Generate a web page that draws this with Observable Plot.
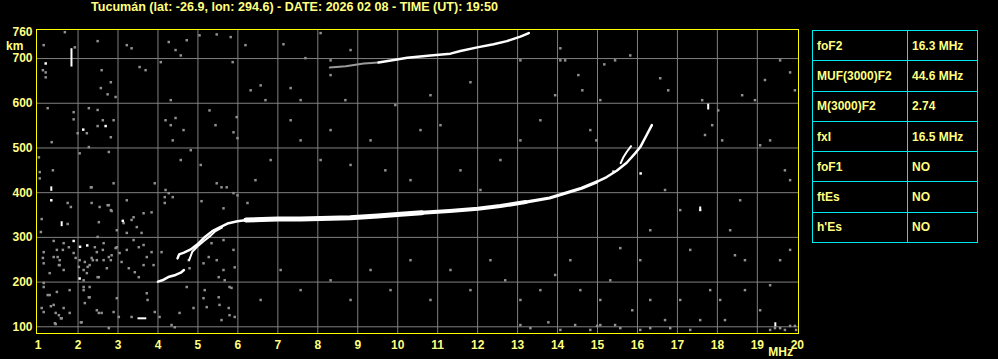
<!DOCTYPE html>
<html><head><meta charset="utf-8">
<script src="https://cdn.jsdelivr.net/npm/d3@7"></script>
<script src="https://cdn.jsdelivr.net/npm/@observablehq/plot@0.6"></script>
<style>
html,body{margin:0;padding:0;background:#000;}
#wrap{position:relative;width:998px;height:359px;overflow:hidden;background:#000;font-family:"Liberation Sans",Arial,sans-serif;}
#params{position:absolute;left:812px;top:30px;width:166px;border-collapse:collapse;table-layout:fixed;}
#params td{border:1px solid #00e8f0;color:#ffff80;font:bold 12px "Liberation Sans",Arial,sans-serif;height:30.3px;padding:0 0 0 4px;white-space:nowrap;box-sizing:border-box;}
#params td.k{width:95px;}
</style></head>
<body><div id="wrap"></div>
<script>
// ---------- data ----------
const titleText = "Tucumán (lat: -26.9, lon: 294.6) - DATE: 2026 02 08 - TIME (UT): 19:50";
const xTicks = [1,2,3,4,5,6,7,8,9,10,11,12,13,14,15,16,17,18,19,20];
const yTicks = [100,200,300,400,500,600,700,760];
const gridF = [2,3,4,5,6,7,8,9,10,11,12,13,14,15,16,17,18,19];
const gridH = [100,200,300,400,500,600,700];

const paramNames = ["foF2","MUF(3000)F2","M(3000)F2","fxI","foF1","ftEs","h'Es"];
const paramValues = ["16.3 MHz","44.6 MHz","2.74","16.5 MHz","NO","NO","NO"];

// F2 trace (MHz, km)
const f2Low = [[4.0,201],[4.11,204],[4.28,212],[4.44,216],[4.57,221],[4.65,227]];
const f2BranchA = [[4.49,253],[4.53,262],[4.65,266],[4.82,273],[4.98,284],[5.15,299],[5.36,314],[5.52,321],[5.74,331],[5.99,336],[6.32,340]];
const f2BranchB = [[4.78,249],[4.86,268],[4.98,279],[5.15,292],[5.32,304],[5.44,314],[5.6,322]];
const f2Flat = [[6.2,339],[6.6,340],[7.0,341],[7.57,341],[8.32,343],[8.81,344],[9.5,348],[10.07,352],[10.6,355]];
const f2Mid = [[10.6,355],[11.3,359],[12.0,364],[12.57,370],[13.2,379]];
const f2Rise = [[13.2,379],[13.8,388],[14.23,400],[14.6,410],[14.98,424]];
const f2Top = [[14.98,424],[15.23,435],[15.48,449],[15.73,467],[15.94,488],[16.07,502],[16.23,529],[16.36,551]];
const f2X = [[15.58,466],[15.64,478],[15.73,491],[15.84,504]];
// second-hop trace
const hop2Gray = [[8.3,680],[8.7,683],[9.15,689],[9.52,691]];
const hop2White = [[9.52,691],[9.98,698],[10.24,702],[10.82,707],[11.32,711],[11.57,717],[11.99,725],[12.4,732],[12.73,739],[13.07,749],[13.28,757]];

// isolated white echoes
const whiteBars = [
  {f:1.835,h1:681,h2:722},{f:1.33,h1:403,h2:413},{f:1.59,h1:324,h2:335},
  {f:19.45,h1:100,h2:109},{f:17.57,h1:358,h2:368},{f:17.77,h1:585,h2:598}
];
const whiteDots = [[1.33,383],[1.19,689],[1.89,292],[2.23,282],[2.04,208],[2.13,541],[2.69,549],[3.12,337],[2.05,279],[16.08,443],[15.4,447]];
const whiteHBar = [{h:119,f1:3.5,f2:3.72}];

// gray noise echoes
const noise = [
[1.67,759],[1.14,730],[1.92,725],[2.49,739],[1.12,674],[1.19,669],[1.19,658],[2.59,674],[2.82,647],[2.57,634],
[2.74,620],[2.94,614],[1.24,589],[1.89,580],[1.89,564],[1.99,533],[2.22,533],[2.27,589],[2.49,585],[2.62,562],
[2.49,549],[2.82,524],[2.89,562],[1.34,513],[2.04,488],[2.27,502],[2.77,491],[1.02,479],[1.37,450],[1.04,446],
[1.04,432],[2.32,412],[1.74,377],[1.82,368],[1.09,341],[2.52,334],[2.82,361],[2.74,372],[1.74,330],[1.07,312],
[1.39,292],[1.62,272],[1.49,256],[1.54,238],[1.12,254],[1.94,254],[2.02,234],[2.24,234],[2.37,249],[2.49,301],
[2.62,272],[2.82,249],[2.94,276],[2.14,189],[2.27,166],[2.49,211],[1.14,198],[1.24,171],[1.32,146],[1.44,131],
[1.57,119],[1.44,106],[2.07,110],[2.52,131],[2.77,97],[3.02,122],[1.14,133],
[2.34,412],[2.89,421],[3.92,421],[4.17,390],[4.37,390],[4.17,377],[4.27,399],[5.47,421],[5.59,412],[5.89,399],
[5.09,381],[5.64,365],[2.34,377],[2.54,368],[2.77,372],[2.84,359],[3.22,383],[3.39,345],[3.64,354],[3.84,356],
[3.14,332],[3.34,339],[3.47,323],[2.97,316],[3.22,310],[3.59,310],[3.39,294],[3.52,278],[3.64,283],[3.22,272],
[3.04,265],[2.97,278],[2.64,287],[2.42,278],[2.47,267],[2.34,254],[2.29,238],[2.47,249],[2.64,249],[2.77,256],
[2.17,245],[2.14,227],[2.22,220],[2.52,211],[2.72,231],[2.84,260],[3.09,245],[3.27,231],[3.42,222],[3.52,211],
[3.64,238],[3.72,256],[3.89,238],[3.84,267],[4.09,267],[4.77,249],[4.79,231],[5.14,242],[5.27,256],[5.47,249],
[5.64,227],[5.52,211],[5.79,189],[5.92,233],[5.89,272],[5.64,294],[5.34,287],[1.52,238],[1.64,227],[1.39,256],
[1.14,267],[1.14,242],[1.29,220],[1.54,249],[1.89,265],[2.04,249],[1.77,278],[1.64,287],[1.47,272],[2.14,204],
[2.29,189],[2.14,182],[1.79,182],[1.47,178],[1.29,171],[1.14,189],[1.39,149],[1.64,142],[1.52,126],[1.59,119],
[1.79,131],[1.42,108],[1.09,142],[2.09,110],[2.17,153],[2.29,166],[2.47,137],[2.59,131],[2.89,133],[2.97,164],
[3.72,175],[3.74,160],[3.34,122],[3.92,133],[4.04,122],[4.34,104],[4.42,99],[4.54,131],[4.89,142],[5.14,164],
[5.22,144],[5.54,149],[5.77,142],[5.79,126],[5.59,115],[5.92,122],[5.67,204],[5.84,187],[5.17,182],[4.72,189],
[5.52,166],
[3.22,730],[3.34,723],[3.54,681],[3.69,674],[4.07,692],[4.27,737],[4.44,719],[4.57,707],[4.72,741],[5.04,752],
[4.19,562],[4.32,551],[4.44,567],[4.64,540],[4.32,607],[4.37,517],[4.82,495],[5.07,462],[5.44,551],[5.99,522],
[5.89,535],[5.29,584],[5.97,569],[6.32,629],[6.57,640],[7.32,634],[8.32,663],[5.87,692],[6.19,730],[7.14,732],
[5.47,754],[5.82,748],[8.07,757],[7.69,701],[8.82,719],[8.32,696],
[6.69,607],[7.32,562],[7.57,517],[8.07,473],[8.32,540],[8.82,462],[9.32,517],[9.69,450],[10.57,540],[11.07,551],
[10.32,428],[11.57,450],[12.07,406],[12.57,473],[13.07,517],[13.57,562],[13.94,618],[13.07,696],[14.07,696],[11.82,647],
[10.82,618],[9.94,596],[8.69,607],[7.57,607],[6.82,473],[6.44,428],[6.24,377],[5.99,394],[5.72,412],[4.19,406],
[4.57,473],
[14.07,723],[14.19,696],[14.52,663],[14.62,629],[14.82,540],[14.97,517],[15.07,607],[15.17,687],[15.44,696],[15.82,707],
[16.57,656],[16.77,629],[17.62,607],[18.02,584],[17.69,529],[17.87,551],[18.12,517],[18.62,618],[18.94,607],[19.19,652],
[19.57,696],[19.82,669],[19.94,629],[19.32,517],[19.07,506],[19.69,450],[19.82,428],[18.57,383],[18.32,316],[17.57,361],
[17.32,272],[17.07,361],[16.69,406],[16.32,316],[16.07,249],[15.57,276],[15.32,204],[15.07,160],[14.57,182],[14.32,249],
[13.94,216],[13.57,182],[13.07,160],[12.69,204],[12.32,249],[11.82,182],[11.32,227],[10.82,160],[10.32,249],[9.82,182],
[9.32,227],[8.82,160],[8.32,204],[7.57,182],[7.07,227],[6.57,160],[17.82,182],[18.07,160],[18.44,260],[18.69,249],
[18.69,182],[19.07,137],[19.32,193],[19.57,249],[19.82,272],[18.19,115],[17.57,115],[17.07,160],[16.69,115],[16.32,160],
[15.87,137],[15.44,104],[15.07,104],[14.82,93],[14.44,104],[14.07,93],[13.77,110],[13.32,97],[13.07,104],[19.32,93],
[19.57,97],[19.82,102],[19.97,93],[14.99,102],[15.57,97],[16.07,93],[16.32,97],[16.82,97],[17.32,93],[19.44,97],
[19.69,93],[19.94,102]
];

// ---------- chart ----------
const FONT = '"Liberation Sans", Arial, sans-serif';
const LABEL = "#ffff80";
const px = d => d[0], py = d => d[1];
const seg = (data, w, c) => Plot.line(data, {x: px, y: py, stroke: c || "#ffffff", strokeWidth: w, curve: "linear"});

const chart = Plot.plot({
  width: 998, height: 359,
  marginLeft: 36, marginRight: 200, marginTop: 29, marginBottom: 26,
  x: {domain: [0.96, 20.03]},
  y: {domain: [85, 765]},
  style: {background: "#000", color: LABEL, fontFamily: FONT, fontSize: "12px", fontWeight: "bold", overflow: "visible"},
  marks: [
    Plot.gridX(gridF, {stroke: "#808080", strokeOpacity: 1, strokeWidth: 1}),
    Plot.gridY(gridH, {stroke: "#808080", strokeOpacity: 1, strokeWidth: 1}),
    Plot.dot(noise, {x: px, y: py, symbol: "square", r: 1.4, fill: "#909090"}),
    seg(hop2Gray, 2, "#9a9a9a"),
    seg(hop2White, 2.5),
    seg(f2Low, 2.5),
    seg(f2BranchA, 2.5),
    seg(f2BranchB, 2),
    seg(f2Flat, 5),
    seg(f2Mid, 4),
    seg(f2Rise, 3.2),
    seg(f2Top, 2.5),
    seg(f2X, 2),
    Plot.ruleX(whiteBars, {x: "f", y1: "h1", y2: "h2", stroke: "#fff", strokeWidth: 2}),
    Plot.ruleY(whiteHBar, {y: "h", x1: "f1", x2: "f2", stroke: "#fff", strokeWidth: 2}),
    Plot.dot(whiteDots, {x: px, y: py, symbol: "square", r: 1.4, fill: "#fff"}),
    Plot.frame({stroke: "#ffff00", strokeWidth: 1}),
    Plot.axisX(xTicks, {tickSize: 0, tickPadding: 7, fill: LABEL, fontWeight: "bold", fontSize: 12, label: null, tickFormat: d => String(d)}),
    Plot.axisY(yTicks, {tickSize: 0, tickPadding: 4, fill: LABEL, fontWeight: "bold", fontSize: 12, label: null, tickFormat: d => String(d)})
  ]
});

const wrap = document.getElementById("wrap");
wrap.appendChild(chart);
const svg = d3.select(chart);
const addText = (x, y, anchor, s, extra) => {
  const t = svg.append("text").attr("x", x).attr("y", y).attr("text-anchor", anchor)
    .attr("fill", LABEL).attr("font-family", FONT).attr("font-weight", "bold").attr("font-size", 12).text(s);
  if (extra) extra(t);
  return t;
};
addText(91, 11, "start", titleText, t => t.attr("textLength", 407).attr("lengthAdjust", "spacingAndGlyphs"));
addText(6, 49.5, "start", "km");
addText(793, 356, "end", "MHz");

// parameters table
const table = d3.select(wrap).append("table").attr("id", "params");
const rows = table.selectAll("tr").data(paramNames.map((n, i) => [n, paramValues[i]])).join("tr");
rows.append("td").attr("class", "k").text(d => d[0]);
rows.append("td").text(d => d[1]);
</script>
</body></html>
